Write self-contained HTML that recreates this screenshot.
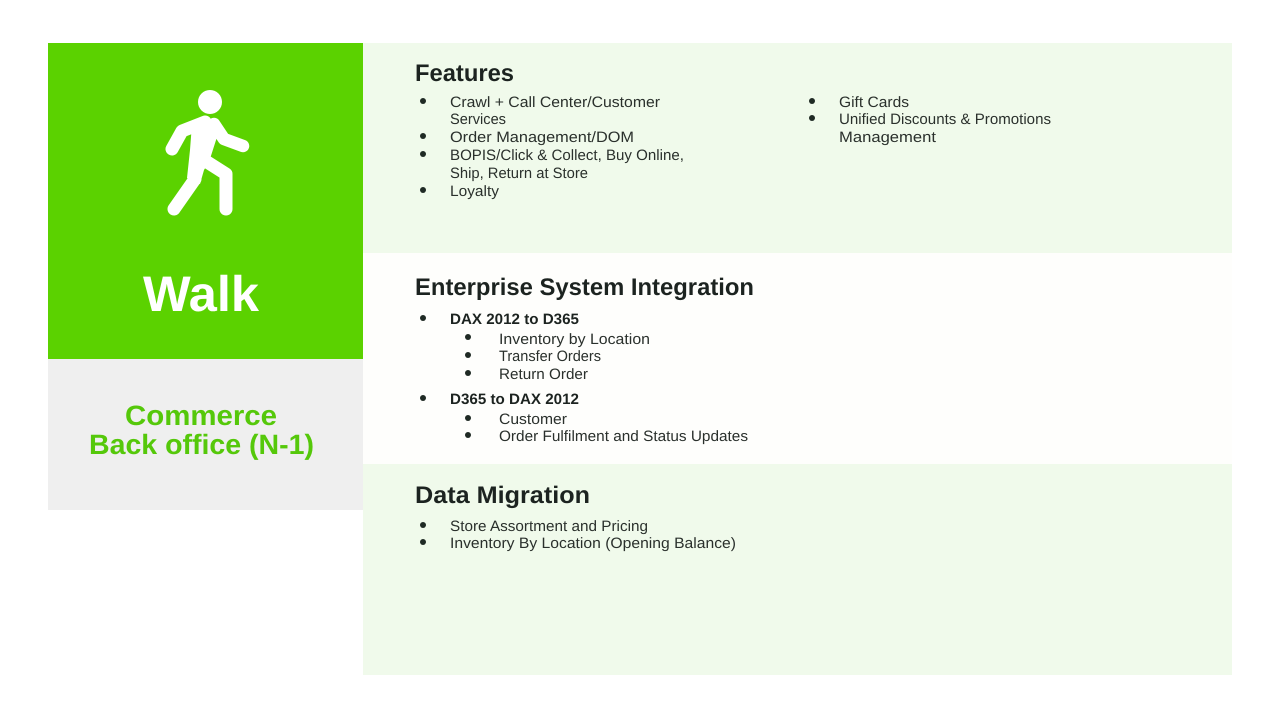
<!DOCTYPE html>
<html>
<head>
<meta charset="utf-8">
<style>
html,body{margin:0;padding:0;background:#fff;width:1280px;height:720px;overflow:hidden}
svg{display:block}
text{font-family:"Liberation Sans",sans-serif;text-rendering:geometricPrecision}
.h{font-size:24px;font-weight:bold;fill:#1c2320}
.b{font-size:15px;fill:#2a302c}
.bb{font-size:15px;font-weight:bold;fill:#1c2320}
.g{font-size:28px;font-weight:bold;fill:#55c80a}
</style>
</head>
<body>
<svg width="1280" height="720" viewBox="0 0 1280 720" xmlns="http://www.w3.org/2000/svg">
<rect width="1280" height="720" fill="#fff"/>
<rect x="48" y="43" width="315" height="316" fill="#5bd200"/>
<rect x="48" y="359" width="315" height="151" fill="#efefef"/>
<rect x="363" y="43" width="869" height="210" fill="#f0faeb"/>
<rect x="363" y="253" width="869" height="211" fill="#fefefc"/>
<rect x="363" y="464" width="869" height="211" fill="#f0faeb"/>

<circle cx="210" cy="102" r="12" fill="#fff"/>
<g fill="none" stroke="#fff" stroke-linecap="round" stroke-linejoin="round">
<path d="M172 149L182 131L205 122" stroke-width="13"/>
<path d="M214 124L224 139L243 146" stroke-width="12.500"/>
<path d="M195 179L174 209" stroke-width="13"/>
<path d="M204 160L226 174V209" stroke-width="13"/>
</g>
<path d="M192 124L215 120L217 137L209 162L204 170L200 184L187 178L190 150Z" fill="#fff"/>

<text x="143" y="311" font-size="50" font-weight="bold" fill="#fff" textLength="116" lengthAdjust="spacingAndGlyphs">Walk</text>
<text x="125" y="425" class="g" textLength="152" lengthAdjust="spacingAndGlyphs">Commerce</text>
<text x="89" y="454" class="g" textLength="225" lengthAdjust="spacingAndGlyphs">Back office (N-1)</text>

<text x="415" y="81" class="h" textLength="99" lengthAdjust="spacingAndGlyphs">Features</text>
<g fill="#1f2a24">
<circle cx="423" cy="101" r="3"/><circle cx="423" cy="136" r="3"/><circle cx="423" cy="154" r="3"/><circle cx="423" cy="190" r="3"/>
<circle cx="812" cy="101" r="3"/><circle cx="812" cy="118" r="3"/>
<circle cx="423" cy="318" r="3"/><circle cx="468" cy="337" r="3"/><circle cx="468" cy="355" r="3"/><circle cx="468" cy="373" r="3"/>
<circle cx="423" cy="398" r="3"/><circle cx="468" cy="418" r="3"/><circle cx="468" cy="435" r="3"/>
<circle cx="423" cy="525" r="3"/><circle cx="423" cy="542" r="3"/>
</g>
<text x="450" y="107" class="b" textLength="210" lengthAdjust="spacingAndGlyphs">Crawl + Call Center/Customer</text>
<text x="450" y="124" class="b" textLength="56" lengthAdjust="spacingAndGlyphs">Services</text>
<text x="450" y="142" class="b" textLength="184" lengthAdjust="spacingAndGlyphs">Order Management/DOM</text>
<text x="450" y="160" class="b" textLength="234" lengthAdjust="spacingAndGlyphs">BOPIS/Click &amp; Collect, Buy Online,</text>
<text x="450" y="178" class="b" textLength="138" lengthAdjust="spacingAndGlyphs">Ship, Return at Store</text>
<text x="450" y="196" class="b" textLength="49" lengthAdjust="spacingAndGlyphs">Loyalty</text>
<text x="839" y="107" class="b" textLength="70" lengthAdjust="spacingAndGlyphs">Gift Cards</text>
<text x="839" y="124" class="b" textLength="212" lengthAdjust="spacingAndGlyphs">Unified Discounts &amp; Promotions</text>
<text x="839" y="142" class="b" textLength="97" lengthAdjust="spacingAndGlyphs">Management</text>

<text x="415" y="295" class="h" textLength="339" lengthAdjust="spacingAndGlyphs">Enterprise System Integration</text>
<text x="450" y="324" class="bb" textLength="129" lengthAdjust="spacingAndGlyphs">DAX 2012 to D365</text>
<text x="499" y="344" class="b" textLength="151" lengthAdjust="spacingAndGlyphs">Inventory by Location</text>
<text x="499" y="361" class="b" textLength="102" lengthAdjust="spacingAndGlyphs">Transfer Orders</text>
<text x="499" y="379" class="b" textLength="89" lengthAdjust="spacingAndGlyphs">Return Order</text>
<text x="450" y="404" class="bb" textLength="129" lengthAdjust="spacingAndGlyphs">D365 to DAX 2012</text>
<text x="499" y="424" class="b" textLength="68" lengthAdjust="spacingAndGlyphs">Customer</text>
<text x="499" y="441" class="b" textLength="249" lengthAdjust="spacingAndGlyphs">Order Fulfilment and Status Updates</text>

<text x="415" y="503" class="h" textLength="175" lengthAdjust="spacingAndGlyphs">Data Migration</text>
<text x="450" y="531" class="b" textLength="198" lengthAdjust="spacingAndGlyphs">Store Assortment and Pricing</text>
<text x="450" y="548" class="b" textLength="286" lengthAdjust="spacingAndGlyphs">Inventory By Location (Opening Balance)</text>
</svg>
</body>
</html>
